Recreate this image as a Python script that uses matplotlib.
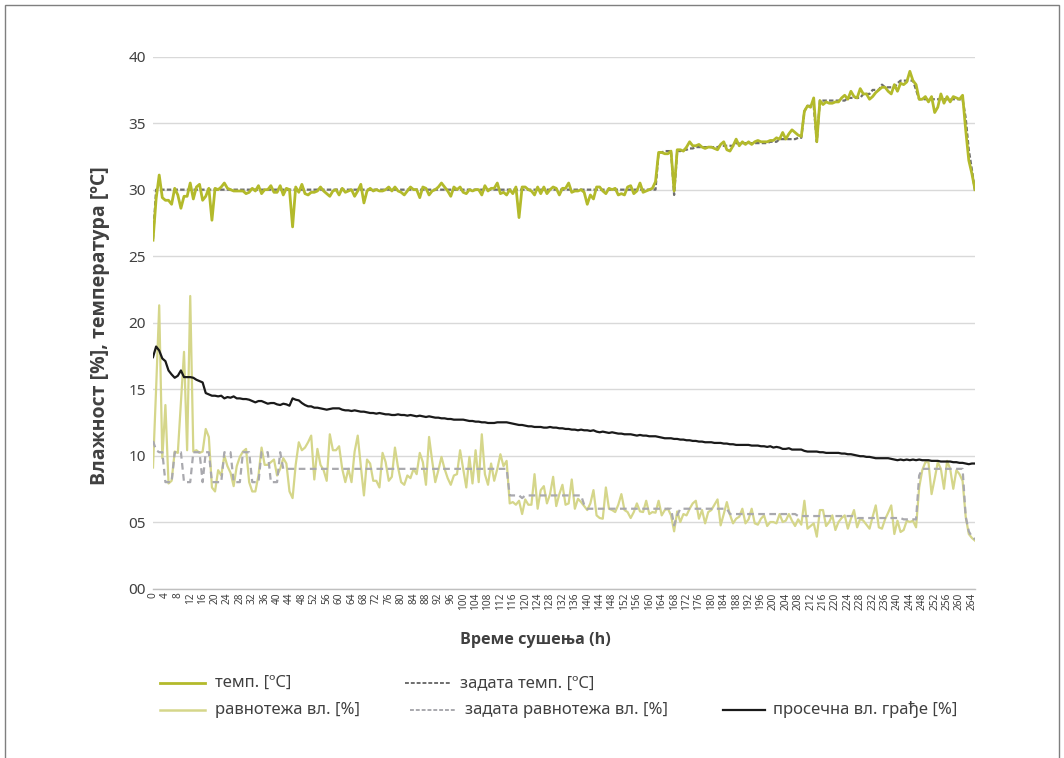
import numpy as np
import matplotlib
matplotlib.use("Agg")
import matplotlib.pyplot as plt
from matplotlib.lines import Line2D

plt.rcParams['font.family'] = ['Noto Sans', 'DejaVu Sans']
BOLD_FAMILY = ['Open Sans', 'DejaVu Sans']

# ---------------- data (hourly, 0..265 h) ----------------
hours = list(range(0, 266))

temp = [
    26.2, 29.3, 31.1, 29.4, 29.2, 29.2, 28.9, 30.1, 29.6, 28.6,
    29.5, 29.5, 30.5, 29.3, 30.2, 30.4, 29.2, 29.5, 30.1, 27.7,
    30.1, 30.0, 30.2, 30.5, 30.1, 30.0, 29.9, 29.9, 29.9, 29.9,
    29.7, 29.8, 30.1, 29.9, 30.3, 29.7, 30.0, 30.0, 30.3, 29.8,
    29.8, 30.3, 29.6, 30.1, 30.0, 27.2, 30.2, 29.8, 30.4, 29.7,
    29.6, 29.8, 29.8, 29.9, 30.2, 29.9, 29.7, 29.5, 29.9, 30.0,
    29.6, 30.1, 29.8, 29.9, 30.0, 29.5, 29.9, 30.4, 29.0, 29.9,
    30.1, 29.9, 30.0, 29.9, 29.9, 30.0, 30.2, 29.9, 30.2, 29.9,
    29.8, 29.6, 29.9, 30.2, 30.0, 30.0, 29.4, 30.2, 30.1, 29.6,
    29.9, 30.0, 30.2, 30.5, 30.2, 29.9, 29.5, 30.2, 30.0, 30.2,
    29.8, 29.7, 30.0, 29.9, 30.0, 30.0, 29.6, 30.3, 29.9, 30.1,
    30.1, 30.5, 29.7, 29.8, 29.6, 30.0, 29.7, 30.2, 27.9, 30.2,
    30.2, 30.0, 29.9, 29.6, 30.2, 29.7, 30.2, 29.7, 30.0, 30.2,
    30.1, 29.6, 30.1, 30.1, 30.5, 29.8, 29.9, 29.9, 30.0, 29.8,
    28.9, 29.6, 29.3, 30.2, 30.2, 29.9, 29.7, 30.1, 30.0, 30.1,
    29.6, 29.7, 29.6, 30.2, 30.3, 29.7, 29.9, 30.5, 29.8, 29.9,
    30.0, 30.1, 30.6, 32.8, 32.8, 32.7, 32.7, 32.9, 29.9, 33.0,
    33.0, 32.9, 33.2, 33.6, 33.3, 33.3, 33.4, 33.2, 33.1, 33.2,
    33.2, 33.1, 33.0, 33.4, 33.6, 33.0, 32.9, 33.3, 33.8, 33.3,
    33.6, 33.4, 33.6, 33.4, 33.6, 33.7, 33.6, 33.6, 33.6, 33.7,
    33.7, 33.9, 33.8, 34.3, 33.8, 34.2, 34.5, 34.3, 34.1, 34.0,
    35.9, 36.3, 36.2, 36.9, 33.6, 36.7, 36.4, 36.6, 36.5, 36.5,
    36.6, 36.6, 36.9, 37.1, 36.8, 37.4, 37.0, 36.9, 37.6, 37.2,
    37.2, 36.8, 37.0, 37.3, 37.5, 37.7, 37.7, 37.4, 37.2, 37.9,
    37.4, 38.0, 37.9, 38.1, 38.9, 38.2, 37.9, 36.8, 36.8, 37.0,
    36.6, 37.0, 35.8, 36.2, 37.2, 36.5, 37.0, 36.6, 37.0, 36.9,
    36.8, 37.1, 34.5, 32.2, 31.2, 30.0,
]

temp_set = [26.3] + [30.0] * 162 + [
    32.8, 32.8, 32.9, 32.9, 32.9, 29.6, 32.9,
    32.9, 33.0, 33.0, 33.1, 33.1, 33.2, 33.2, 33.2, 33.2, 33.2,
    33.2, 33.2, 33.2, 33.3, 33.3, 33.3, 33.3, 33.3, 33.5, 33.5,
    33.5, 33.5, 33.5, 33.5, 33.5, 33.5, 33.5, 33.5, 33.5, 33.6,
    33.6, 33.6, 33.8, 33.8, 33.8, 33.8, 33.8, 33.8, 33.9, 33.9,
    35.9, 36.3, 36.3, 36.3, 33.6, 36.7, 36.7, 36.7, 36.7, 36.7,
    36.7, 36.7, 36.7, 36.7, 36.9, 36.9, 36.9, 36.9, 36.9, 37.2,
    37.2, 37.2, 37.5, 37.5, 37.5, 37.9, 37.7, 37.7, 37.7, 37.7,
    38.0, 38.2, 38.2, 38.2, 38.2, 38.2, 37.5, 36.8, 36.8, 36.8,
    36.8, 36.8, 36.8, 36.8, 36.8, 36.8, 36.8, 36.8, 36.8, 36.8,
    36.8, 36.8, 35.4, 33.0, 31.5, 29.9,
]

eq = [
    9.1, 15.0, 21.3, 9.8, 13.8, 7.9, 8.1, 10.3, 10.2, 14.0,
    17.8, 10.4, 22.0, 10.3, 10.4, 10.2, 10.3, 12.0, 11.4, 7.6,
    7.3, 8.9, 8.5, 10.0, 9.2, 8.7, 7.7, 9.2, 9.9, 10.3,
    10.5, 8.0, 7.3, 7.3, 8.5, 10.6, 9.3, 9.3, 9.5, 9.7,
    8.5, 9.0, 9.8, 9.4, 7.3, 6.8, 9.3, 11.0, 10.4, 10.6,
    11.0, 11.5, 8.2, 10.5, 9.3, 8.9, 8.1, 11.6, 10.4, 10.4,
    10.7, 9.0, 8.0, 9.0, 8.0, 10.3, 11.5, 9.2, 7.0, 9.7,
    9.4, 8.1, 8.1, 7.6, 10.2, 9.5, 8.1, 8.4, 10.6, 9.1,
    8.0, 7.8, 8.5, 8.3, 9.0, 8.6, 10.2, 9.5, 7.8, 11.4,
    9.6, 8.0, 8.9, 9.9, 9.0, 8.3, 7.8, 8.5, 8.6, 10.4,
    9.0, 7.6, 9.9, 7.9, 10.4, 8.0, 11.6, 8.6, 7.8, 9.4,
    8.1, 9.0, 10.1, 9.2, 9.6, 6.4, 6.5, 6.3, 6.6, 5.6,
    6.7, 6.3, 6.3, 8.6, 6.0, 7.4, 7.7, 6.4, 7.1, 8.4,
    6.2, 7.1, 7.8, 6.3, 6.4, 8.2, 6.0, 6.75, 6.5, 6.2,
    5.9, 6.4, 7.4, 5.5, 5.3, 5.25, 7.6, 6.0, 5.9, 5.75,
    6.3, 7.1, 5.9, 5.75, 5.3, 5.75, 6.4, 5.8, 5.75, 6.6,
    5.6, 5.75, 5.7, 6.6, 5.5, 5.9, 6.0, 5.5, 4.3, 5.8,
    5.0, 5.6, 5.5, 6.0, 6.4, 6.6, 5.25, 5.9, 4.9, 5.75,
    5.9, 6.3, 6.7, 4.75, 5.6, 6.5, 5.55, 4.9, 5.25, 5.4,
    6.0, 4.9, 5.2, 6.0, 4.9, 4.8, 5.25, 5.5, 4.7, 5.0,
    5.0, 4.9, 5.6, 5.0, 5.1, 5.6, 5.1, 4.7, 5.2, 4.8,
    6.6, 4.5, 4.7, 4.9, 3.9, 5.9, 5.9, 4.7, 5.0, 5.5,
    4.4, 5.0, 5.3, 5.5, 4.5, 5.25, 5.9, 4.6, 5.25, 5.1,
    4.8, 4.5, 5.4, 6.25, 4.6, 4.5, 5.2, 5.7, 6.25, 4.1,
    5.1, 4.25, 4.4, 5.1, 5.0, 5.1, 4.6, 7.6, 8.9, 9.5,
    9.5, 7.1, 8.25, 9.5, 9.0, 7.5, 9.6, 9.0, 7.5, 8.9,
    8.6, 8.1, 5.4, 4.1, 3.8, 3.6,
]

# set-point equilibrium moisture as (level, number of hours) runs
eq_set_levels = [11.1, 10.4, 10.25, 8.0, 10.25, 8.0, 10.25, 8.0, 10.25, 8.0,
                 10.25, 8.0, 10.25, 8.0, 10.25, 8.0, 10.25, 9.0,
                 7.0, 6.8, 7.0, 6.3, 6.0, 4.75, 5.5, 6.0, 5.6, 5.45,
                 5.3, 5.2, 8.5, 9.0, 5.4, 4.3, 3.9, 3.7]
eq_set_hours = [1, 1, 2, 3, 3, 3, 3, 1, 2, 4,
                3, 3, 3, 3, 3, 3, 1, 73,
                4, 1, 19, 1, 28, 1, 1, 16, 22, 19,
                15, 5, 1, 14, 1, 1, 1, 1]

avg = [
    17.4, 18.2, 17.9, 17.3, 17.1, 16.4, 16.1, 15.85, 16.0, 16.4,
    15.9, 15.9, 15.9, 15.85, 15.7, 15.6, 15.5, 14.7, 14.6, 14.5,
    14.5, 14.45, 14.5, 14.3, 14.4, 14.35, 14.45, 14.3, 14.3, 14.25,
    14.25, 14.2, 14.1, 14.0, 14.1, 14.1, 14.0, 13.9, 13.95, 13.95,
    13.85, 13.8, 13.9, 13.85, 13.75, 14.3, 14.2, 14.15, 13.95, 13.8,
    13.7, 13.7, 13.6, 13.6, 13.55, 13.5, 13.45, 13.5, 13.55, 13.55,
    13.55, 13.45, 13.4, 13.4, 13.35, 13.4, 13.35, 13.3, 13.3, 13.25,
    13.2, 13.2, 13.15, 13.2, 13.15, 13.1, 13.1, 13.05, 13.05, 13.1,
    13.05, 13.05, 13.0, 13.05, 13.0, 12.95, 13.0, 12.95, 12.9, 12.95,
    12.9, 12.85, 12.85, 12.8, 12.8, 12.75, 12.75, 12.7, 12.7, 12.7,
    12.7, 12.65, 12.6, 12.6, 12.55, 12.55, 12.5, 12.5, 12.45, 12.45,
    12.45, 12.5, 12.5, 12.5, 12.5, 12.45, 12.4, 12.35, 12.3, 12.3,
    12.25, 12.2, 12.2, 12.15, 12.15, 12.15, 12.1, 12.1, 12.15, 12.1,
    12.1, 12.05, 12.05, 12.0, 12.0, 11.95, 11.95, 11.9, 11.95, 11.9,
    11.9, 11.85, 11.9, 11.8, 11.75, 11.8, 11.75, 11.7, 11.75, 11.7,
    11.65, 11.65, 11.6, 11.6, 11.6, 11.55, 11.5, 11.55, 11.5, 11.5,
    11.45, 11.45, 11.45, 11.4, 11.35, 11.3, 11.3, 11.3, 11.25, 11.25,
    11.2, 11.2, 11.15, 11.15, 11.1, 11.1, 11.05, 11.05, 11.0, 11.0,
    11.0, 10.95, 10.95, 10.95, 10.9, 10.9, 10.85, 10.85, 10.8, 10.8,
    10.8, 10.8, 10.8, 10.75, 10.75, 10.75, 10.7, 10.7, 10.65, 10.7,
    10.6, 10.65, 10.6, 10.5, 10.5, 10.55, 10.45, 10.45, 10.45, 10.45,
    10.35, 10.3, 10.3, 10.3, 10.3, 10.25, 10.25, 10.2, 10.2, 10.2,
    10.2, 10.2, 10.15, 10.15, 10.1, 10.1, 10.05, 10.0, 9.95, 9.95,
    9.9, 9.9, 9.85, 9.8, 9.8, 9.8, 9.8, 9.8, 9.75, 9.7,
    9.65, 9.7, 9.65, 9.7, 9.65, 9.7, 9.65, 9.7, 9.65, 9.65,
    9.65, 9.6, 9.6, 9.6, 9.55, 9.55, 9.55, 9.55, 9.5, 9.5,
    9.45, 9.45, 9.4, 9.35, 9.4, 9.4,
]

labels = ["темп. [ºC]", "задата темп. [ºC]", "равнотежа вл. [%]",
          "задата равнотежа вл. [%]", "просечна вл. грађе [%]"]
x_label = "Време сушења (h)"
y_label = "Влажност [%], температура [ºC]"

# ---------------- styling ----------------
c_temp = "#B3BA2B"
c_tset = "#6E6E6E"
c_eq = "#D5D68A"
c_eqset = "#A9A9AE"
c_avg = "#1A1A1A"
txt = "#404040"

n = len(hours)
eq_set = np.repeat(eq_set_levels, eq_set_hours)
x = np.array(hours)

fig = plt.figure(figsize=(10.64, 7.58), dpi=100)
ax = fig.add_axes([153 / 1064, 1 - 588.5 / 758, (975 - 153) / 1064, (588.5 - 56.7) / 758])

ax.plot(x[:len(eq)], eq, color=c_eq, lw=1.6, zorder=3)
ax.plot(x[:len(eq_set)], eq_set, color=c_eqset, lw=1.6, ls=(0, (3, 2)), zorder=4)
ax.plot(x[:len(avg)], avg, color=c_avg, lw=1.6, zorder=5)
ax.plot(x[:len(temp_set)], temp_set, color=c_tset, lw=1.6, ls=(0, (2, 1)), zorder=3)
ax.plot(x[:len(temp)], temp, color=c_temp, lw=2.0, zorder=4)

ax.set_xlim(0, n - 1)
ax.set_ylim(0, 40)
ax.set_yticks(np.arange(0, 41, 5))
ax.set_yticklabels([f"{v:02d}" for v in range(0, 41, 5)], fontsize=11, color=txt)
xt = list(range(0, n, 4))
ax.set_xticks(xt)
ax.set_xticklabels([str(v) for v in xt], rotation=90, fontsize=7.3, color=txt)
ax.tick_params(axis='both', length=0, pad=5)
ax.tick_params(axis='x', pad=3)
ax.grid(axis='y', color="#D9D9D9", lw=1.0)
ax.set_axisbelow(True)
for s in ['left', 'right', 'top']:
    ax.spines[s].set_visible(False)
ax.spines['bottom'].set_color("#BFBFBF")
ax.spines['bottom'].set_linewidth(1.0)

fig.text(535 / 1064, 1 - 640 / 758, x_label, ha='center', va='center',
         fontsize=11.6, fontweight='bold', color=txt, family=BOLD_FAMILY)
fig.text(100 / 1064, 1 - 326 / 758, y_label, ha='center', va='center',
         rotation=90, fontsize=14, fontweight='bold', color=txt, family=BOLD_FAMILY)

# legend (manual placement)
entries = [
    (160, 205, 215, 683, c_temp, '-', 2.0, labels[0]),
    (405, 450, 460, 683, c_tset, (0, (2, 1)), 1.4, labels[1]),
    (160, 205, 215, 710, c_eq, '-', 1.8, labels[2]),
    (410, 455, 465, 710, c_eqset, (0, (2, 1)), 1.4, labels[3]),
    (723, 765, 773, 710, c_avg, '-', 1.6, labels[4]),
]
for x0, x1, xt0, yy, col, ls, lw, lab in entries:
    fy = 1 - yy / 758
    fig.add_artist(Line2D([x0 / 1064, x1 / 1064], [fy, fy], color=col, ls=ls, lw=lw,
                          transform=fig.transFigure))
    fig.text(xt0 / 1064, fy, lab, ha='left', va='center', fontsize=12, color=txt)

# chart-area border
fig.add_artist(plt.Rectangle((5 / 1064, -0.01), 1054 / 1064, 1 - 5 / 758 + 0.01, fill=False,
                             ec="#7F7F7F", lw=1.0, transform=fig.transFigure))

fig.savefig("out.png", dpi=100)
